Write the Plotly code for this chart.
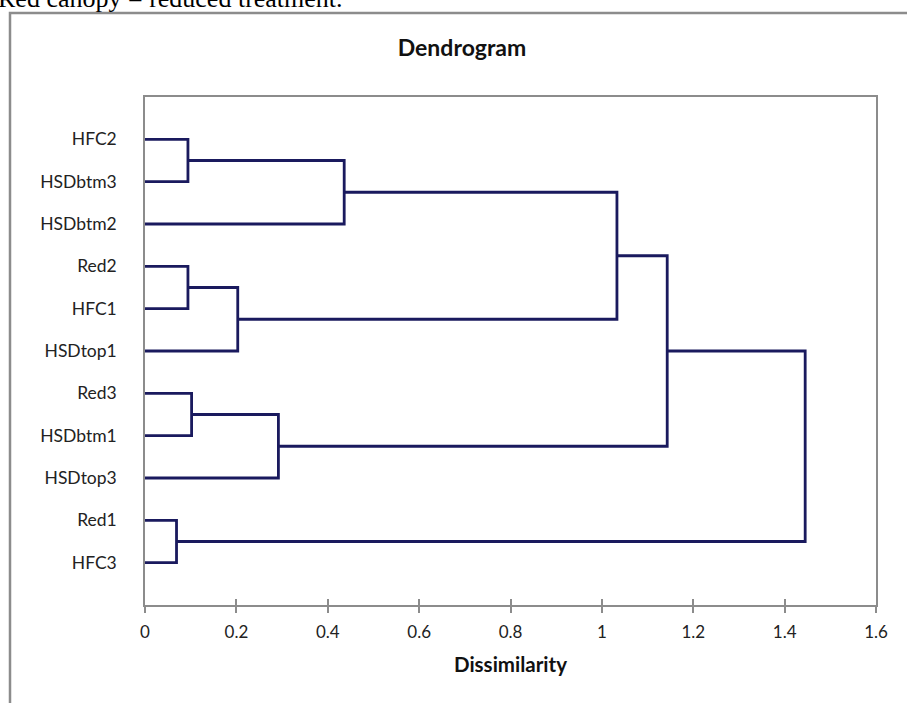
import plotly.graph_objects as go

# ---- data ----
leaves = ["HFC2", "HSDbtm3", "HSDbtm2", "Red2", "HFC1", "HSDtop1",
          "Red3", "HSDbtm1", "HSDtop3", "Red1", "HFC3"]
# merges: (left node, right node, dissimilarity); new nodes numbered from len(leaves)
merge_left = [0, 11, 3, 13, 6, 15, 9, 12, 18, 19]
merge_right = [1, 2, 4, 5, 7, 8, 10, 14, 16, 17]
merge_height = [0.094, 0.436, 0.094, 0.203, 0.102, 0.292, 0.069, 1.033, 1.143, 1.445]
x_ticks = [0, 0.2, 0.4, 0.6, 0.8, 1, 1.2, 1.4, 1.6]
x_ticktext = ["0", "0.2", "0.4", "0.6", "0.8", "1", "1.2", "1.4", "1.6"]

n = len(leaves)
leaf_pos = [n - i for i in range(n)]  # top leaf highest
pos = {i: leaf_pos[i] for i in range(n)}
hgt = {i: 0.0 for i in range(n)}

xs, ys = [], []
for k, (a, b, h) in enumerate(zip(merge_left, merge_right, merge_height)):
    node = n + k
    xs += [hgt[a], h, h, hgt[b], None]
    ys += [pos[a], pos[a], pos[b], pos[b], None]
    pos[node] = (pos[a] + pos[b]) / 2
    hgt[node] = h

LINE = "#1a1a5e"
AX = "#8c8c8c"

fig = go.Figure()
fig.add_trace(go.Scatter(x=xs, y=ys, mode="lines",
                         line=dict(color=LINE, width=2.8),
                         hoverinfo="skip", showlegend=False))
# invisible trace to carry the overlay axis (inner half of the crossing ticks)
fig.add_trace(go.Scatter(x=[0], y=[0], xaxis="x2", mode="markers",
                         marker=dict(opacity=0), hoverinfo="skip", showlegend=False))

fig.update_layout(
    width=907, height=703,
    margin=dict(l=145, r=31, t=97, b=98),
    paper_bgcolor="white", plot_bgcolor="white",
    font=dict(family="Lato", color="#222222"),
    title=dict(text="<b>Dendrogram</b>", x=(462) / 907, xanchor="center",
               y=1 - 48 / 703, yanchor="middle",
               font=dict(family="Lato", size=23, color="#111111")),
    xaxis=dict(range=[0, 1.6], tickvals=x_ticks, ticktext=x_ticktext,
               showgrid=False, zeroline=False, showline=True, linecolor=AX,
               linewidth=1.5, mirror=True, ticks="outside", ticklen=6,
               tickcolor=AX, tickwidth=1.5, ticklabelstandoff=5,
               tickfont=dict(family="Lato", size=17, color="#222222"),
               title=dict(text="<b>Dissimilarity</b>", standoff=16,
                          font=dict(family="Lato", size=20.5, color="#111111"))),
    xaxis2=dict(range=[0, 1.6], tickvals=x_ticks, overlaying="x", side="bottom",
                anchor="y", showgrid=False, zeroline=False, showline=False,
                ticks="inside", ticklen=6, tickcolor=AX, tickwidth=1.5,
                showticklabels=False),
    yaxis=dict(range=[0, n + 1], tickvals=leaf_pos, ticktext=leaves,
               showgrid=False, zeroline=False, showline=True, linecolor=AX,
               linewidth=1.5, mirror=True, ticks="", ticklabelstandoff=23,
               tickfont=dict(family="Lato", size=17.5, color="#222222")),
    shapes=[dict(type="rect", xref="paper", yref="paper",
                 x0=(10 - 145) / 731, x1=(920 - 145) / 731,
                 y0=(605 - 720) / 508, y1=(605 - 13) / 508,
                 line=dict(color="#8c8c8c", width=2.5), layer="below")],
    annotations=[dict(text="Red canopy = reduced treatment.", xref="paper", yref="paper",
                      x=(-4 - 145) / 731, xanchor="left",
                      y=(605 - 15) / 508, yanchor="bottom", showarrow=False,
                      font=dict(family="Liberation Serif", size=26, color="#000000"))],
)

fig.write_html("out.html", config={"displayModeBar": False},
               post_script="document.body.style.margin='0';")
